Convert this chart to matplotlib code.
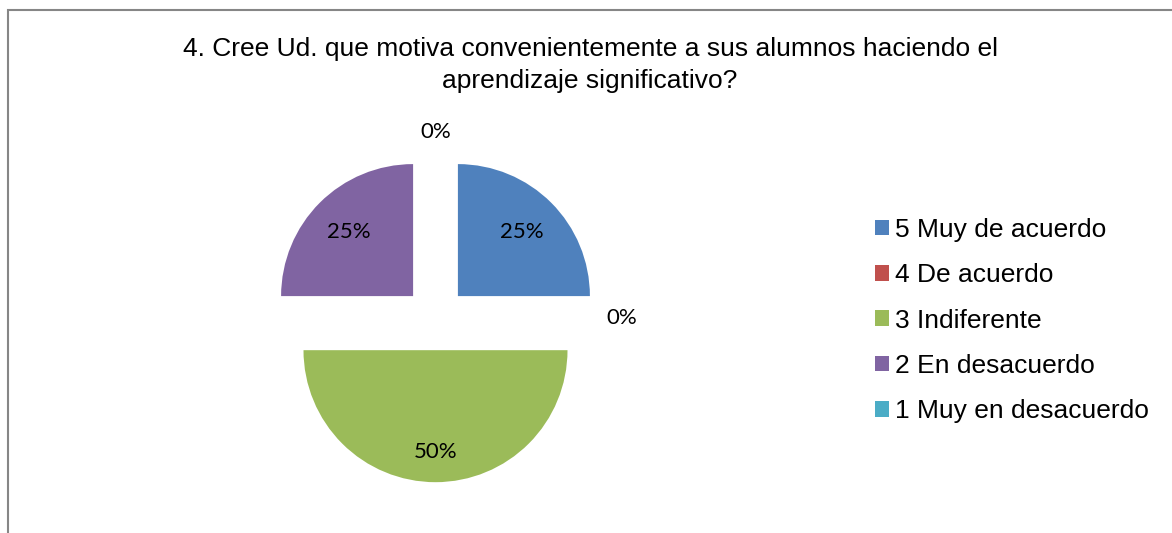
import numpy as np
import matplotlib
matplotlib.use("Agg")
import matplotlib.pyplot as plt
from matplotlib.patches import Rectangle

# datos de la pregunta 4
categorias = ["5 Muy de acuerdo", "4 De acuerdo", "3 Indiferente",
              "2 En desacuerdo", "1 Muy en desacuerdo"]
porcentajes = [25, 0, 50, 25, 0]
colores = ["#4F81BD", "#C0504D", "#9BBB59", "#8064A2", "#4BACC6"]
titulo = ("4. Cree Ud. que motiva convenientemente a sus alumnos haciendo el\n"
          "aprendizaje significativo?")

W, H = 1172, 533
fig = plt.figure(figsize=(W / 100, H / 100), dpi=100)

# marco gris del grafico
fig.patches.append(Rectangle((8 / W, -0.1), 1.2, (H - 10) / H + 0.1,
                             transform=fig.transFigure, fill=False,
                             edgecolor="#868686", linewidth=1.5, zorder=0))

# eje del pastel: 1 unidad = 132 px, centro en (435.5, 318.5)
cx, cy, r = 435.5, 318.5, 132
lado = 400
ax = fig.add_axes([(cx - lado / 2) / W, (H - cy - lado / 2) / H, lado / W, lado / H])

wedges, _ = ax.pie(porcentajes, colors=colores, startangle=90, counterclock=False,
                   explode=[0.24] * len(porcentajes),
                   wedgeprops=dict(linewidth=0))
ax.set_xlim(-lado / 2 / r, lado / 2 / r)
ax.set_ylim(-lado / 2 / r, lado / 2 / r)
ax.set_aspect("equal")
ax.axis("off")

# etiquetas de porcentaje
for w, v in zip(wedges, porcentajes):
    ang = np.deg2rad((w.theta1 + w.theta2) / 2)
    if v == 0:
        d = 1.17
    elif v >= 50:
        d = 0.77
    else:
        d = 0.69
    x0, y0 = w.center
    ax.text(x0 + d * np.cos(ang), y0 + d * np.sin(ang), "%d%%" % v,
            ha="center", va="center", fontsize=16, family="Lato", color="black")

fig.text(590 / W, 1 - 65 / H, titulo, ha="center", va="center",
         fontsize=19, family="Liberation Sans", linespacing=1.42)

fig.legend(wedges, categorias, loc="center left",
           bbox_to_anchor=(875 / W, (H - 320.5) / H), frameon=False,
           borderpad=0, borderaxespad=0, handlelength=0.53, handleheight=0.53,
           handletextpad=0.23, labelspacing=0.81,
           prop=dict(family="Liberation Sans", size=19))

fig.savefig("out.png", dpi=100)
